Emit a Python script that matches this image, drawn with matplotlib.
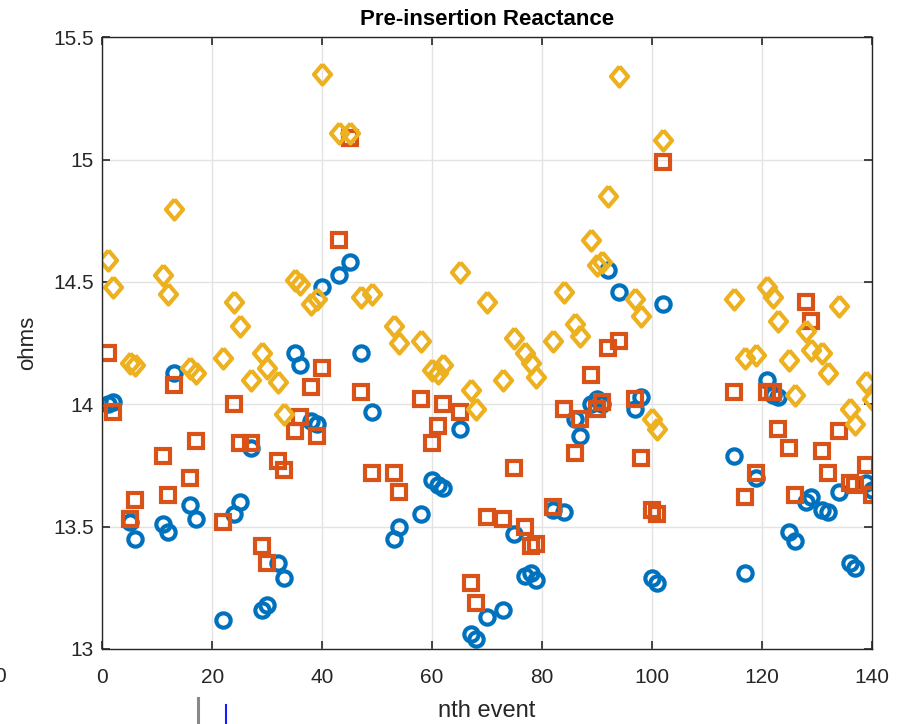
import matplotlib
matplotlib.use("Agg")
import matplotlib.pyplot as plt
from matplotlib.lines import Line2D

plt.rcParams["font.family"] = ["Liberation Sans", "DejaVu Sans"]

# event index
events = [1, 2, 5, 6, 11, 12, 13, 16, 17, 22, 24, 25, 27, 29, 30, 32, 33, 35, 36, 38,
          39, 40, 43, 45, 47, 49, 53, 54, 58, 60, 61, 62, 65, 67, 68, 70, 73, 75, 77, 78,
          79, 82, 84, 86, 87, 89, 90, 91, 92, 94, 97, 98, 100, 101, 102, 115, 117, 119, 121, 122,
          123, 125, 126, 128, 129, 131, 132, 134, 136, 137, 139, 140]

# reactance, three phases (ohms)
phase_a = [14.00, 14.01, 13.52, 13.45, 13.51, 13.48, 14.13, 13.59, 13.53, 13.12, 13.55, 13.60, 13.82, 13.16, 13.18, 13.35, 13.29, 14.21, 14.16, 13.93,
           13.92, 14.48, 14.53, 14.58, 14.21, 13.97, 13.45, 13.50, 13.55, 13.69, 13.67, 13.66, 13.90, 13.06, 13.04, 13.13, 13.16, 13.47, 13.30, 13.31,
           13.28, 13.57, 13.56, 13.94, 13.87, 14.00, 14.02, 14.00, 14.55, 14.46, 13.98, 14.03, 13.29, 13.27, 14.41, 13.79, 13.31, 13.70, 14.10, 14.04,
           14.03, 13.48, 13.44, 13.60, 13.62, 13.57, 13.56, 13.64, 13.35, 13.33, 13.68, 13.65]
phase_b = [14.21, 13.97, 13.53, 13.61, 13.79, 13.63, 14.08, 13.70, 13.85, 13.52, 14.00, 13.84, 13.84, 13.42, 13.35, 13.77, 13.73, 13.89, 13.95, 14.07,
           13.87, 14.15, 14.67, 15.09, 14.05, 13.72, 13.72, 13.64, 14.02, 13.84, 13.91, 14.00, 13.97, 13.27, 13.19, 13.54, 13.53, 13.74, 13.50, 13.42,
           13.43, 13.58, 13.98, 13.80, 13.94, 14.12, 13.98, 14.01, 14.23, 14.26, 14.02, 13.78, 13.57, 13.55, 14.99, 14.05, 13.62, 13.72, 14.05, 14.05,
           13.90, 13.82, 13.63, 14.42, 14.34, 13.81, 13.72, 13.89, 13.68, 13.67, 13.75, 13.63]
phase_c = [14.59, 14.48, 14.17, 14.16, 14.53, 14.45, 14.80, 14.15, 14.13, 14.19, 14.42, 14.32, 14.10, 14.21, 14.15, 14.09, 13.96, 14.51, 14.49, 14.41,
           14.43, 15.35, 15.11, 15.11, 14.44, 14.45, 14.32, 14.25, 14.26, 14.14, 14.13, 14.16, 14.54, 14.06, 13.98, 14.42, 14.10, 14.27, 14.21, 14.17,
           14.11, 14.26, 14.46, 14.33, 14.28, 14.67, 14.57, 14.58, 14.85, 15.34, 14.43, 14.36, 13.94, 13.90, 15.08, 14.43, 14.19, 14.20, 14.48, 14.44,
           14.34, 14.18, 14.04, 14.30, 14.22, 14.21, 14.13, 14.40, 13.98, 13.92, 14.09, 14.02]

diamond = [(0, 1), (0.85, 0), (0, -1), (-0.85, 0), (0, 1)]

fig = plt.figure(figsize=(9.09, 7.24), dpi=100)
ax = fig.add_axes([0.1125, 0.1036, 0.8465, 0.8449])

ax.plot(events, phase_a, linestyle="none", marker="o", ms=10.3, mew=3.0,
        mfc="none", mec="#0072BD")
ax.plot(events, phase_b, linestyle="none", marker="s", ms=9.4, mew=3.0,
        mfc="none", mec="#D95319")
ax.plot(events, phase_c, linestyle="none", marker=diamond, ms=14.5, mew=3.0,
        mfc="none", mec="#EDB120")

ax.set_xlim(0, 140)
ax.set_ylim(13, 15.5)
ax.set_xticks(range(0, 141, 20))
ax.set_yticks([13, 13.5, 14, 14.5, 15, 15.5])
ax.set_yticklabels(["13", "13.5", "14", "14.5", "15", "15.5"])
ax.grid(True, color="#e3e3e3", linewidth=1)
ax.set_axisbelow(True)
ax.tick_params(direction="in", length=6, width=1.2, top=True, right=True,
               labelsize=15, colors="#262626", pad=6)
ax.tick_params(axis="x", pad=14)
for s in ax.spines.values():
    s.set_color("#262626")
    s.set_linewidth(1.0)

ax.set_title("Pre-insertion Reactance", fontsize=16, fontweight="bold", pad=9)
ax.set_xlabel("nth event", fontsize=17, color="#262626", labelpad=9)
ax.set_ylabel("ohms", fontsize=16, color="#262626", labelpad=11)

# stray bits from the screenshot
fig.text(-0.006, 0.065, "0", fontsize=15, color="#262626", va="center")
fig.add_artist(Line2D([0.2178, 0.2178], [0.0, 0.036], color="#888888", lw=2.2))
fig.add_artist(Line2D([0.2486, 0.2486], [0.0, 0.026], color="#1a1aff", lw=1.5))

fig.savefig("out.png", dpi=100)
